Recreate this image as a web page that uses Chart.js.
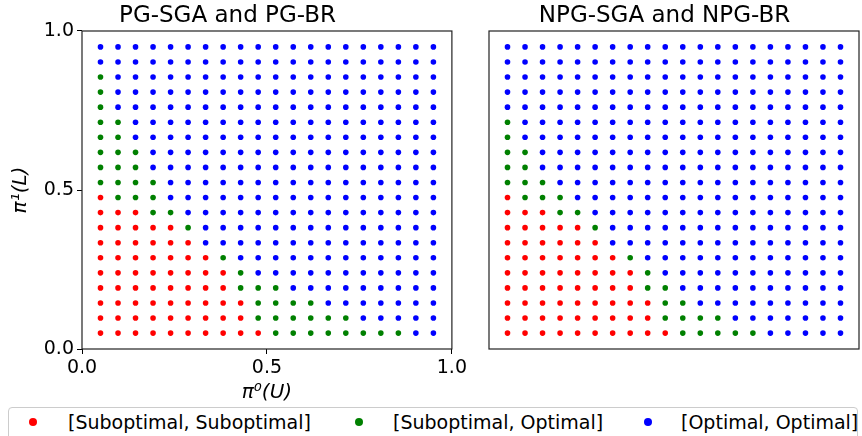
<!DOCTYPE html>
<html>
<head>
<meta charset="utf-8">
<script src="https://cdn.jsdelivr.net/npm/chart.js@4.4.1/dist/chart.umd.min.js"></script>
<style>
  body { margin: 0; background: #fff; }
  #wrap { position: relative; width: 862px; height: 436px; overflow: hidden; font-family: 'DejaVu Sans', sans-serif; }
  #c1 { position: absolute; left: 0; top: 0; }
  #c2 { position: absolute; left: 470px; top: 0; }
  #legend { position: absolute; left: 8px; top: 407px; width: 850px; height: 40px; border: 1px solid #ccc; border-radius: 4px; box-sizing: border-box; background: #fff; }
  .lbl { position: absolute; top: 0; height: 28px; line-height: 28px; font-size: 19px; color: #000; white-space: nowrap; }
  .dot { position: absolute; top: 10px; width: 8px; height: 8px; border-radius: 50%; }
</style>
</head>
<body>
<div id="wrap">
  <canvas id="c1" width="470" height="405"></canvas>
  <canvas id="c2" width="392" height="405"></canvas>
  <div id="legend"></div>
</div>
<script>
// grid of initial policies (20 values per axis)
const gridVals = [0.05, 0.0974, 0.1447, 0.1921, 0.2395, 0.2868, 0.3342, 0.3816, 0.4289, 0.4763,
                  0.5237, 0.5711, 0.6184, 0.6658, 0.7132, 0.7605, 0.8079, 0.8553, 0.9026, 0.95];

// per column of pi0(U): how many of the lowest rows end in each outcome
const redCount       = [10, 9, 9, 8, 8, 7, 6, 5, 3, 1, 0, 0, 0, 0, 0, 0, 0, 0, 0, 0];
const greenCountPG   = [8, 6, 4, 3, 1, 1, 0, 1, 2, 3, 4, 3, 3, 2, 2, 1, 1, 1, 0, 0];
const greenCountNPG  = [5, 4, 2, 2, 1, 1, 0, 1, 2, 3, 3, 2, 2, 1, 1, 0, 0, 0, 0, 0];

const classLabels = ['[Suboptimal, Suboptimal]', '[Suboptimal, Optimal]', '[Optimal, Optimal]'];
const classColors = ['#ff0000', '#008000', '#0000ff'];
const xTicks = [0, 0.5, 1];

const FONT = 'DejaVu Sans';

function buildSets(greenCount) {
  const groups = [[], [], []];
  gridVals.forEach((x, i) => {
    gridVals.forEach((y, j) => {
      let c = 2;
      if (j < redCount[i]) c = 0;
      else if (j < redCount[i] + greenCount[i]) c = 1;
      groups[c].push({ x: x, y: y });
    });
  });
  return groups.map((pts, c) => ({
    label: classLabels[c],
    data: pts,
    backgroundColor: classColors[c],
    borderWidth: 0,
    pointRadius: 2.8,
    pointHoverRadius: 2.8
  }));
}

// matplotlib-like box around the plot area
const frame = {
  id: 'frame',
  afterDatasetsDraw(chart) {
    const { ctx, chartArea: a } = chart;
    ctx.save();
    ctx.strokeStyle = '#222';
    ctx.lineWidth = 1.2;
    ctx.strokeRect(a.left, a.top, a.right - a.left, a.bottom - a.top);
    ctx.restore();
  }
};

function axis(showTicks, width, height, titleText, isY) {
  return {
    type: 'linear',
    min: 0,
    max: 1,
    afterFit(s) {
      if (isY) s.width = width; else s.height = height;
    },
    afterBuildTicks(s) { s.ticks = xTicks.map(v => ({ value: v })); },
    border: { display: false },
    grid: { display: showTicks, drawOnChartArea: false, drawTicks: true, tickLength: 5, color: '#000', lineWidth: 1 },
    ticks: {
      display: showTicks,
      padding: 3,
      color: '#000',
      maxRotation: 0,
      font: { family: FONT, size: 19 },
      callback: v => v.toFixed(1)
    },
    title: {
      display: showTicks,
      text: titleText,
      color: '#000',
      font: { family: FONT, size: 20, style: 'italic' },
      padding: isY ? { top: 9, bottom: 0 } : { top: 0, bottom: 0 }
    }
  };
}

function makeChart(id, titleText, greenCount, showTicks) {
  return new Chart(document.getElementById(id), {
    type: 'scatter',
    data: { datasets: buildSets(greenCount) },
    options: {
      responsive: false,
      animation: false,
      events: [],
      layout: { padding: { left: 0, right: showTicks ? 15 : 3, top: 0, bottom: 0 } },
      plugins: {
        legend: { display: false },
        tooltip: { enabled: false },
        title: {
          display: true,
          text: titleText,
          color: '#000',
          font: { family: FONT, size: 23, weight: 'normal', lineHeight: 1.2 },
          padding: { top: 2, bottom: 1.4 }
        }
      },
      scales: {
        x: axis(showTicks, 0, 56, 'π⁰(U)', false),
        y: axis(showTicks, showTicks ? 82 : 19, 0, 'π¹(L)', true)
      }
    },
    plugins: [frame]
  });
}

makeChart('c1', 'PG-SGA and PG-BR', greenCountPG, true);
makeChart('c2', 'NPG-SGA and NPG-BR', greenCountNPG, false);

// legend shared by both panels
const legendPos = [[20, 59], [346, 384], [635, 672]];
const legend = document.getElementById('legend');
classLabels.forEach((txt, c) => {
  const d = document.createElement('div');
  d.className = 'dot';
  d.style.left = legendPos[c][0] + 'px';
  d.style.background = classColors[c];
  legend.appendChild(d);
  const t = document.createElement('div');
  t.className = 'lbl';
  t.style.left = legendPos[c][1] + 'px';
  t.textContent = txt;
  legend.appendChild(t);
});
</script>
</body>
</html>
